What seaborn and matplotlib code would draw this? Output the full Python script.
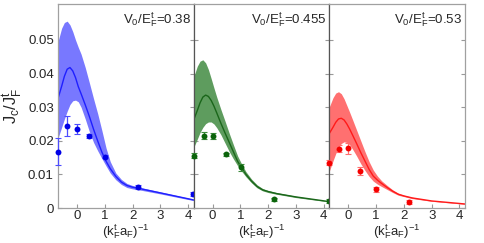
import numpy as np
import pandas as pd
import matplotlib
matplotlib.use('Agg')
import matplotlib.pyplot as plt
import seaborn as sns

# x grid of the theory curves, (k_F^t a_F)^-1
curve_x = [-0.68, -0.55, -0.45, -0.35, -0.25, -0.15, -0.05, 0.05, 0.15, 0.3, 0.45, 0.6,
           0.75, 0.9, 1.05, 1.2, 1.4, 1.6, 1.8, 2.0, 2.3, 3.0, 4.2]

blue_mid = [0.0326, 0.0362, 0.0392, 0.0413, 0.0418, 0.0408, 0.0388, 0.0361, 0.0340, 0.0307,
            0.0272, 0.0234, 0.0199, 0.0166, 0.0139, 0.0117, 0.0094, 0.0077, 0.0067, 0.0062,
            0.0057, 0.0045, 0.0024]
blue_hi = [0.0495, 0.0535, 0.0552, 0.0556, 0.0545, 0.0525, 0.0500, 0.0478, 0.0458, 0.0418,
           0.0372, 0.0325, 0.0280, 0.0230, 0.0178, 0.0138, 0.0104, 0.0085, 0.0073, 0.0067,
           0.0061, 0.0048, 0.0026]
blue_lo = [0.0208, 0.0240, 0.0265, 0.0288, 0.0308, 0.0319, 0.0321, 0.0316, 0.0300, 0.0265,
           0.0227, 0.0195, 0.0170, 0.0147, 0.0125, 0.0104, 0.0084, 0.0070, 0.0061, 0.0057,
           0.0053, 0.0042, 0.0022]

green_mid = [0.0262, 0.0290, 0.0313, 0.0330, 0.0336, 0.0332, 0.0320, 0.0303, 0.0283, 0.0252,
             0.0223, 0.0195, 0.0167, 0.0139, 0.0119, 0.0100, 0.0080, 0.0064, 0.0054, 0.0049,
             0.0043, 0.0033, 0.0019]
green_hi = [0.0390, 0.0422, 0.0437, 0.0441, 0.0432, 0.0412, 0.0385, 0.0357, 0.0330, 0.0293,
            0.0258, 0.0222, 0.0188, 0.0155, 0.0130, 0.0108, 0.0086, 0.0069, 0.0058, 0.0052,
            0.0046, 0.0035, 0.0020]
green_lo = [0.0180, 0.0205, 0.0225, 0.0240, 0.0251, 0.0256, 0.0256, 0.0250, 0.0239, 0.0218,
            0.0193, 0.0168, 0.0146, 0.0126, 0.0109, 0.0093, 0.0075, 0.0060, 0.0051, 0.0046,
            0.0041, 0.0031, 0.0018]

red_mid = [0.0222, 0.0240, 0.0255, 0.0265, 0.0267, 0.0262, 0.0250, 0.0235, 0.0218, 0.0192,
           0.0165, 0.0140, 0.0115, 0.0095, 0.0083, 0.0073, 0.0061, 0.0050, 0.0041, 0.0036,
           0.0030, 0.0021, 0.0012]
red_hi = [0.0301, 0.0328, 0.0342, 0.0346, 0.0340, 0.0325, 0.0305, 0.0285, 0.0264, 0.0232,
          0.0200, 0.0168, 0.0138, 0.0113, 0.0095, 0.0081, 0.0067, 0.0054, 0.0044, 0.0038,
          0.0032, 0.0022, 0.0013]
red_lo = [0.0110, 0.0140, 0.0162, 0.0180, 0.0192, 0.0197, 0.0195, 0.0188, 0.0176, 0.0155,
          0.0132, 0.0112, 0.0094, 0.0080, 0.0071, 0.0064, 0.0055, 0.0046, 0.0038, 0.0034,
          0.0028, 0.0020, 0.0011]

# experimental points
blue_px = [-0.68, -0.34, 0.0, 0.44, 1.02, 2.2, 4.18]
blue_py = [0.0168, 0.0244, 0.0234, 0.0214, 0.0153, 0.0063, 0.0042]
blue_pe = [0.0040, 0.0030, 0.0015, 0.0007, 0.0005, 0.0005, 0.0007]

green_px = [-0.68, -0.32, 0.02, 0.47, 1.03, 2.2, 4.18]
green_py = [0.0156, 0.0215, 0.0214, 0.0160, 0.0121, 0.0026, 0.0022]
green_pe = [0.0008, 0.0010, 0.0008, 0.0005, 0.0010, 0.0004, 0.0006]

red_px = [-0.68, -0.34, 0.0, 0.44, 1.01, 2.2]
red_py = [0.0135, 0.0176, 0.0178, 0.0111, 0.0056, 0.0018]
red_pe = [0.0008, 0.0010, 0.0016, 0.0012, 0.0007, 0.0006]

ratios = ['0.38', '0.455', '0.53']

sns.set_style('ticks')
plt.rcParams['font.family'] = ['Liberation Sans', 'DejaVu Sans']
plt.rcParams['mathtext.default'] = 'regular'

panels = [
    (blue_mid, blue_hi, blue_lo, blue_px, blue_py, blue_pe,
     '#1f1fff', '#7878ff', '#0000e6', '#4d4dff'),
    (green_mid, green_hi, green_lo, green_px, green_py, green_pe,
     '#1a661a', '#5e9c5e', '#0b640b', '#3c8a3c'),
    (red_mid, red_hi, red_lo, red_px, red_py, red_pe,
     '#ff1a1a', '#ff7070', '#f50000', '#ff6f6f'),
]

fig, axes = plt.subplots(1, 3, figsize=(4.85, 2.43), dpi=100, sharey=True)
fig.subplots_adjust(left=0.1196, right=0.9588, top=0.9835, bottom=0.144, wspace=0)

for i, (ax, p) in enumerate(zip(axes, panels)):
    mid, hi, lo, px, py, pe, lc, fc, pc, ec = p
    df = pd.DataFrame({'x': curve_x, 'mid': mid, 'hi': hi, 'lo': lo})
    ax.fill_between(df['x'], df['lo'], df['hi'], color=fc, lw=0, zorder=1)
    sns.lineplot(data=df, x='x', y='mid', ax=ax, color=lc, lw=1.0, zorder=2)
    ax.errorbar(px, py, yerr=pe, fmt='none', ecolor=ec, elinewidth=0.9,
                capsize=2, capthick=0.8, zorder=3, clip_on=False)
    sns.scatterplot(x=px, y=py, ax=ax, color=pc, s=18, linewidth=0, zorder=4, clip_on=False)

    ax.set_xlim(-0.68, 4.2)
    ax.set_ylim(0, 0.0607)
    ax.set_xticks([0, 1, 2, 3, 4])
    ax.set_yticks([0, 0.01, 0.02, 0.03, 0.04, 0.05])
    ax.set_xlabel(r'$(k_F^t a_F)^{-1}$', fontsize=9.5, labelpad=0)
    ax.set_ylabel('')
    ax.tick_params(direction='in', length=3, color='#999999', labelsize=9.5,
                   right=True, pad=3)
    ax.tick_params(axis='x', pad=1.5, labelsize=9.5)
    if i > 0:
        ax.tick_params(labelleft=False)
    for s in ax.spines.values():
        s.set_color('#a0a0a0')
        s.set_linewidth(0.9)
    if i > 0:
        ax.spines['left'].set_color('#555555')
    ax.text(0.98, 0.925, r'$V_0/E_F^t$=' + ratios[i], transform=ax.transAxes,
            ha='right', va='center', fontsize=9.5)

axes[0].set_yticklabels(['0', '0.01', '0.02', '0.03', '0.04', '0.05'])
axes[0].set_ylabel(r'$J_c/J_F^t$', fontsize=12, labelpad=2)

fig.savefig('out.png', dpi=100)
